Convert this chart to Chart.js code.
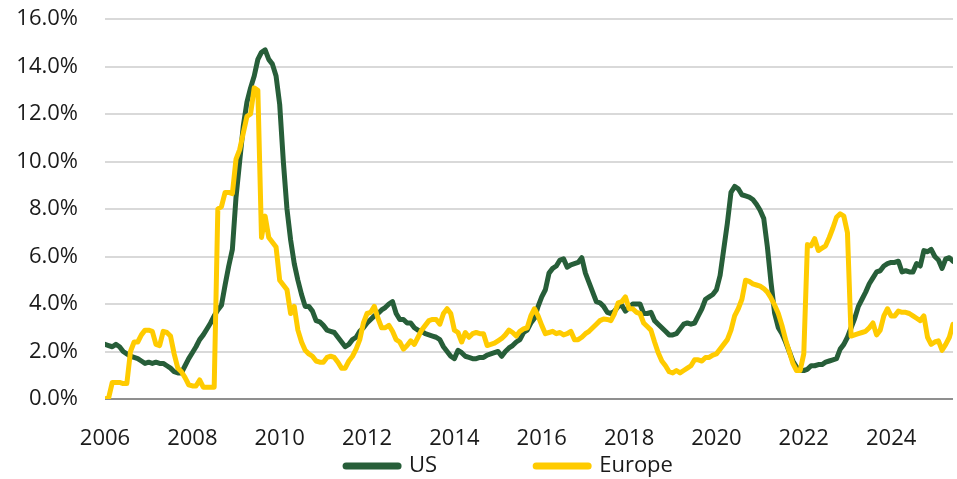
<!DOCTYPE html>
<html>
<head>
<meta charset="utf-8">
<script src="https://cdn.jsdelivr.net/npm/chart.js@4.4.1/dist/chart.umd.min.js"></script>
<style>
  html, body { margin: 0; padding: 0; background: #ffffff; }
  #wrap { width: 957px; height: 479px; position: relative; }
</style>
</head>
<body>
<div id="wrap"><canvas id="c" width="957" height="479"></canvas></div>
<script>
// Monthly series, January 2006 to June 2025
const startYear = 2006;
const seriesNames = ["US", "Europe"];
const yTickLabels = ["0.0%", "2.0%", "4.0%", "6.0%", "8.0%", "10.0%", "12.0%", "14.0%", "16.0%"];
const xTickLabels = ["2006", "2008", "2010", "2012", "2014", "2016", "2018", "2020", "2022", "2024"];

const usValues = [
  2.3, 2.25, 2.2, 2.3, 2.2, 2.0, 1.9, 1.8, 1.75, 1.7, 1.6, 1.5,
  1.55, 1.5, 1.55, 1.5, 1.5, 1.4, 1.3, 1.15, 1.1, 1.1, 1.4, 1.7,
  1.95, 2.2, 2.5, 2.7, 2.95, 3.2, 3.5, 3.75, 3.95, 4.8, 5.6, 6.3,
  8.5, 10.0, 11.5, 12.5, 13.1, 13.6, 14.3, 14.6, 14.7, 14.3, 14.1, 13.6,
  12.4, 10.0, 8.0, 6.7, 5.7, 5.0, 4.4, 3.9, 3.9, 3.7, 3.3, 3.25,
  3.1, 2.9, 2.85, 2.8, 2.6, 2.4, 2.2, 2.3, 2.5, 2.6, 2.85, 3.0,
  3.2, 3.35, 3.5, 3.6, 3.75, 3.85, 4.0, 4.1, 3.6, 3.35, 3.35, 3.2,
  3.2, 3.0, 2.9, 2.85, 2.75, 2.7, 2.65, 2.6, 2.5, 2.2, 2.0, 1.8,
  1.7, 2.05, 1.95, 1.8, 1.75, 1.7, 1.7, 1.75, 1.75, 1.85, 1.9, 1.95,
  2.0, 1.8, 2.0, 2.15, 2.25, 2.4, 2.5, 2.8, 2.9, 3.2, 3.4, 3.9,
  4.3, 4.6, 5.3, 5.5, 5.6, 5.85, 5.9, 5.55, 5.65, 5.7, 5.75, 5.95,
  5.3, 4.9, 4.5, 4.1, 4.05, 3.9, 3.65, 3.6, 3.7, 3.9, 3.95, 3.7,
  3.85, 4.0, 4.0, 4.0, 3.6, 3.6, 3.65, 3.3, 3.15, 3.0, 2.85, 2.7,
  2.7, 2.75, 2.95, 3.15, 3.2, 3.15, 3.2, 3.5, 3.8, 4.2, 4.3, 4.4,
  4.6, 5.2, 6.3, 7.4, 8.7, 8.95, 8.85, 8.6, 8.55, 8.5, 8.4, 8.2,
  7.95, 7.6, 6.4, 4.9, 3.6, 3.0, 2.75, 2.4, 2.0, 1.6, 1.35, 1.2,
  1.2, 1.25, 1.4, 1.4, 1.45, 1.45, 1.55, 1.6, 1.65, 1.7, 2.1, 2.3,
  2.6, 3.0, 3.4, 3.9, 4.2, 4.5, 4.85, 5.1, 5.35, 5.4, 5.6, 5.7,
  5.75, 5.75, 5.8, 5.35, 5.4, 5.35, 5.35, 5.7, 5.6, 6.25, 6.2, 6.3,
  6.0, 5.85, 5.5, 5.9, 5.95, 5.8
];

const europeValues = [
  0.0, 0.05, 0.7, 0.7, 0.7, 0.65, 0.65, 2.0, 2.4, 2.4, 2.7, 2.9,
  2.9, 2.85, 2.3, 2.25, 2.85, 2.8, 2.65, 1.9, 1.3, 1.15, 0.9, 0.6,
  0.55, 0.55, 0.8, 0.5, 0.5, 0.5, 0.5, 8.0, 8.1, 8.7, 8.7, 8.65,
  10.1, 10.5, 11.2, 11.9, 12.0, 13.1, 13.0, 6.8, 7.7, 6.8, 6.6, 6.4,
  5.0, 4.8, 4.6, 3.6, 3.9, 2.9, 2.4, 2.05, 1.9, 1.8, 1.6, 1.55,
  1.55, 1.75, 1.8, 1.75, 1.55, 1.3, 1.3, 1.6, 1.8, 2.1, 2.5, 3.2,
  3.6, 3.65, 3.9, 3.4, 3.0, 3.0, 3.1, 2.85, 2.5, 2.4, 2.1, 2.25,
  2.45, 2.3, 2.6, 2.9, 3.1, 3.3, 3.35, 3.35, 3.15, 3.6, 3.8, 3.6,
  2.9, 2.8, 2.4, 2.8, 2.6, 2.75, 2.8, 2.75, 2.75, 2.25, 2.3, 2.35,
  2.45, 2.55, 2.7, 2.9, 2.8, 2.65, 2.85, 2.95, 3.0, 3.5, 3.8, 3.5,
  3.1, 2.75, 2.8, 2.85, 2.75, 2.8, 2.7, 2.75, 2.85, 2.5, 2.5, 2.6,
  2.75, 2.85, 3.0, 3.15, 3.3, 3.37, 3.35, 3.3, 3.6, 4.05, 4.1, 4.3,
  3.8, 3.8, 3.65, 3.6, 3.2, 3.05, 2.9, 2.4, 1.95, 1.6, 1.4, 1.15,
  1.1, 1.2, 1.1, 1.2, 1.3, 1.4, 1.65, 1.65, 1.6, 1.75, 1.75, 1.85,
  1.9, 2.1, 2.3, 2.5, 2.9, 3.5, 3.8, 4.2, 5.0, 4.95, 4.85, 4.8,
  4.75, 4.65, 4.5, 4.25, 3.95, 3.6, 3.1, 2.5, 2.0, 1.5, 1.2, 1.2,
  1.9, 6.5, 6.45, 6.75, 6.25, 6.35, 6.45, 6.8, 7.2, 7.65, 7.8, 7.7,
  7.0, 2.65, 2.7, 2.75, 2.8, 2.85, 3.0, 3.2, 2.7, 2.9, 3.5, 3.8,
  3.5, 3.5, 3.7, 3.65, 3.65, 3.6, 3.5, 3.4, 3.3, 3.5, 2.6, 2.3,
  2.4, 2.45, 2.05, 2.3, 2.6, 3.15
];

// month index (0 = Jan 2006) used as the x position
const toPoints = vals => vals.map((v, i) => ({ x: i, y: v }));
const lastIndex = usValues.length - 1;

const FONT = "'Open Sans', 'Noto Sans', sans-serif";
const TEXT = '#1a1a1a';
const FS = 22;

// nudges the legend box so that it sits where the reference places it
const legendShift = {
  id: 'legendShift',
  afterLayout(chart) {
    const lg = chart.legend;
    if (!lg) return;
    lg.left = 66;
    lg.top += 5;
    lg.bottom += 5;
  }
};

const chart = new Chart(document.getElementById('c'), {
  type: 'line',
  data: {
    datasets: [
      {
        label: seriesNames[0],
        data: toPoints(usValues),
        borderColor: '#275e39',
        backgroundColor: '#275e39',
        borderWidth: 5,
        pointRadius: 0,
        tension: 0,
        borderJoinStyle: 'round',
        borderCapStyle: 'round',
        order: 2
      },
      {
        label: seriesNames[1],
        data: toPoints(europeValues),
        borderColor: '#ffcb00',
        backgroundColor: '#ffcb00',
        borderWidth: 5,
        pointRadius: 0,
        tension: 0,
        borderJoinStyle: 'round',
        borderCapStyle: 'round',
        order: 1
      }
    ]
  },
  plugins: [legendShift],
  options: {
    responsive: false,
    animation: false,
    devicePixelRatio: 1,
    layout: { padding: { left: 0, right: 4, top: 19, bottom: -3 } },
    plugins: {
      tooltip: { enabled: false },
      legend: {
        position: 'bottom',
        align: 'center',
        labels: {
          font: { family: FONT, size: FS },
          color: TEXT,
          usePointStyle: true,
          pointStyle: 'line',
          pointStyleWidth: 52,
          boxHeight: 7,
          padding: 0,
          generateLabels: (ch) => ch.data.datasets.map((ds, i) => ({
            text: i === 0 ? ds.label + '\u2003\u2003\u2003\u2003\u2002' : ds.label,
            fillStyle: ds.borderColor,
            strokeStyle: ds.borderColor,
            lineWidth: 7,
            lineCap: 'round',
            pointStyle: 'line',
            hidden: false,
            datasetIndex: i,
            fontColor: TEXT
          }))
        }
      }
    },
    scales: {
      x: {
        type: 'linear',
        min: 0,
        max: lastIndex,
        grid: { display: false, drawTicks: false },
        border: { display: false },
        afterBuildTicks: (s) => {
          s.ticks = xTickLabels.map((lab) => ({ value: (parseInt(lab, 10) - startYear) * 12 }));
        },
        afterFit: (s) => {
          s.height = 51;
          s.paddingLeft = 0; s.paddingRight = 0; s.paddingTop = 0; s.paddingBottom = 0;
        },
        ticks: {
          autoSkip: false,
          maxRotation: 0,
          padding: 27,
          color: TEXT,
          font: { family: FONT, size: FS },
          callback: (v) => xTickLabels[v / 24]
        }
      },
      y: {
        min: 0,
        max: 16,
        afterFit: (s) => {
          s.width = 105;
          s.paddingTop = 0; s.paddingBottom = 0;
        },
        border: { display: false },
        grid: {
          drawTicks: false,
          color: (ctx) => ctx.tick && ctx.tick.value === 0 ? '#8f8f8f' : '#d9d9d9',
          lineWidth: 2
        },
        ticks: {
          stepSize: 2,
          padding: 27,
          color: TEXT,
          font: { family: FONT, size: FS },
          callback: (v) => yTickLabels[v / 2]
        }
      }
    }
  }
});
</script>
</body>
</html>
